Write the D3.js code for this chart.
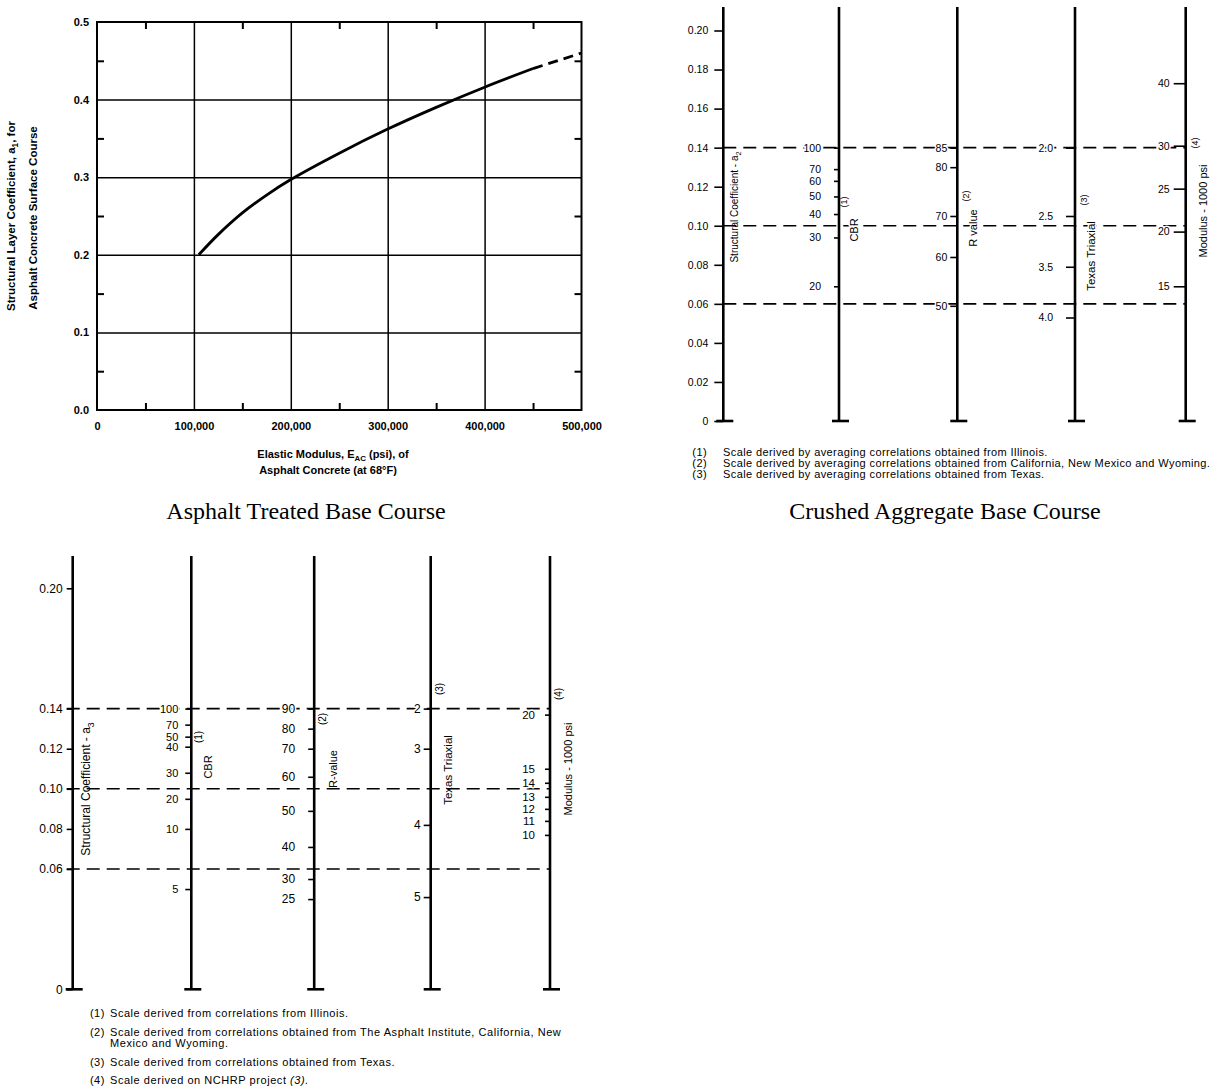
<!DOCTYPE html>
<html lang="en">
<head>
<meta charset="UTF-8">
<title>Structural layer coefficients</title>
<script src="https://d3js.org/d3.v7.min.js"></script>
<style>
  body { margin: 0; background: #fff; }
  svg { display: block; }
  text { font-family: "Liberation Sans", Arial, sans-serif; fill: #000; }
  .caption { font-family: "Liberation Serif", "Times New Roman", serif; font-size: 24px; }
</style>
</head>
<body>
<svg width="1221" height="1089"></svg>
<script>
// ---- Asphalt treated base course: a1 against elastic modulus ----
const modulusSolid = [105000, 125000, 150000, 175000, 200000, 250000, 300000, 350000, 400000, 450000];
const a1Solid = [0.200, 0.226, 0.254, 0.277, 0.297, 0.331, 0.362, 0.390, 0.416, 0.440];
const modulusDashed = [450000, 500000];
const a1Dashed = [0.440, 0.460];
const modulusTicks = [0, 100000, 200000, 300000, 400000, 500000];
const modulusGrid = [100000, 200000, 300000, 400000];
const modulusMinor = [50000, 150000, 250000, 350000, 450000];
const a1Ticks = [0, 0.1, 0.2, 0.3, 0.4, 0.5];
const a1Grid = [0.1, 0.2, 0.3, 0.4];
const a1Minor = [0.05, 0.15, 0.25, 0.35, 0.45];

// ---- Crushed aggregate base course: a2 nomograph ----
const a2Ticks = [0, 0.02, 0.04, 0.06, 0.08, 0.10, 0.12, 0.14, 0.16, 0.18, 0.20];
const a2Guides = [0.14, 0.10, 0.06];
const cbr2Labels = ["100", "70", "60", "50", "40", "30", "20"];
const cbr2At = [0.140, 0.129, 0.123, 0.115, 0.106, 0.094, 0.069];
const rval2Labels = ["85", "80", "70", "60", "50"];
const rval2At = [0.140, 0.130, 0.105, 0.084, 0.059];
const tex2Labels = ["2.0", "2.5", "3.5", "4.0"];
const tex2At = [0.140, 0.105, 0.079, 0.053];
const mod2Labels = ["40", "30", "25", "20", "15"];
const mod2At = [0.173, 0.141, 0.119, 0.097, 0.069];
const notes2 = [
  ["Scale derived by averaging correlations obtained from Illinois."],
  ["Scale derived by averaging correlations obtained from California, New Mexico and Wyoming."],
  ["Scale derived by averaging correlations obtained from Texas."],
  ["Scale derived on NCHRP project "]
];

// ---- Granular subbase course: a3 nomograph ----
const a3Ticks = [0, 0.06, 0.08, 0.10, 0.12, 0.14, 0.20];
const a3Labels = ["0", "0.06", "0.08", "0.10", "0.12", "0.14", "0.20"];
const a3Guides = [0.14, 0.10, 0.06];
const cbr3Labels = ["100", "70", "50", "40", "30", "20", "10", "5"];
const cbr3At = [0.140, 0.132, 0.126, 0.121, 0.108, 0.095, 0.080, 0.050];
const rval3Labels = ["90", "80", "70", "60", "50", "40", "30", "25"];
const rval3At = [0.140, 0.130, 0.120, 0.106, 0.089, 0.071, 0.055, 0.045];
const tex3Labels = ["2", "3", "4", "5"];
const tex3At = [0.140, 0.120, 0.082, 0.046];
const mod3Labels = ["20", "15", "14", "13", "12", "11", "10"];
const mod3At = [0.137, 0.110, 0.103, 0.096, 0.090, 0.084, 0.077];
const notes3 = [
  ["Scale derived from correlations from Illinois."],
  ["Scale derived from correlations obtained from The Asphalt Institute, California, New", "Mexico and Wyoming."],
  ["Scale derived from correlations obtained from Texas."],
  ["Scale derived on NCHRP project "]
];

const svg = d3.select("svg");

// white halo so dashed guides break around a label
const halo = t => t.attr("paint-order", "stroke").attr("stroke", "#fff")
  .attr("stroke-width", 3).attr("stroke-linejoin", "round");

// text made of parts; {sub: "..."} parts are lowered and smaller
function richText(g, x, y, parts, size, opts = {}) {
  const t = g.append("text")
    .attr("transform", opts.rotate ? `translate(${x},${y}) rotate(-90)` : `translate(${x},${y})`)
    .attr("text-anchor", opts.anchor || "middle")
    .attr("dy", "0.35em")
    .attr("font-size", size)
    .attr("font-weight", opts.bold ? "bold" : null);
  let shifted = 0;
  parts.forEach(p => {
    const s = t.append("tspan");
    if (typeof p === "string") {
      s.text(p).attr("dy", -shifted);
      shifted = 0;
    } else if (p.sub) {
      shifted = size * 0.3;
      s.text(p.sub).attr("font-size", size * 0.72).attr("dy", shifted);
    }
  });
  if (opts.halo) halo(t);
  return t;
}

// ================= Panel 1 =================
const p1 = svg.append("g");
const x1 = d3.scaleLinear().domain([0, 500000]).range([97, 581.5]);
const y1 = d3.scaleLinear().domain([0, 0.5]).range([410, 22]);
const plotH = y1(0) - y1(0.5), plotW = x1(500000) - x1(0);

const noDomain = g => g.select(".domain").remove();

p1.append("g").attr("transform", `translate(0,${y1(0)})`)
  .call(d3.axisBottom(x1).tickValues(modulusGrid).tickSize(-plotH).tickFormat(""))
  .call(noDomain).selectAll("line").attr("stroke-width", 1.5);
p1.append("g").attr("transform", `translate(${x1(0)},0)`)
  .call(d3.axisLeft(y1).tickValues(a1Grid).tickSize(-plotW).tickFormat(""))
  .call(noDomain).selectAll("line").attr("stroke-width", 1.5);

// inward minor ticks on all four sides
[[d3.axisBottom(x1).tickValues(modulusMinor), `translate(0,${y1(0)})`],
 [d3.axisTop(x1).tickValues(modulusMinor), `translate(0,${y1(0.5)})`],
 [d3.axisLeft(y1).tickValues(a1Minor), `translate(${x1(0)},0)`],
 [d3.axisRight(y1).tickValues(a1Minor), `translate(${x1(500000)},0)`]
].forEach(([ax, tr]) => {
  p1.append("g").attr("transform", tr)
    .call(ax.tickSize(-7).tickFormat(""))
    .call(noDomain).selectAll("line").attr("stroke-width", 2);
});

p1.append("rect")
  .attr("x", x1(0)).attr("y", y1(0.5))
  .attr("width", plotW).attr("height", plotH)
  .attr("fill", "none").attr("stroke", "#000").attr("stroke-width", 2);

p1.append("g").attr("transform", `translate(0,${y1(0)})`)
  .call(d3.axisBottom(x1).tickValues(modulusTicks).tickSize(0).tickPadding(12).tickFormat(d3.format(",")))
  .call(noDomain)
  .attr("font-size", 11).attr("font-weight", "bold");

p1.append("g").attr("transform", `translate(${x1(0)},0)`)
  .call(d3.axisLeft(y1).tickValues(a1Ticks).tickSize(0).tickPadding(8).tickFormat(d3.format(".1f")))
  .call(noDomain)
  .attr("font-size", 11).attr("font-weight", "bold");

const curve = d3.line().x(d => x1(d[0])).y(d => y1(d[1])).curve(d3.curveCatmullRom.alpha(0.5));
p1.append("path").datum(d3.zip(modulusSolid, a1Solid))
  .attr("d", curve).attr("fill", "none").attr("stroke", "#000").attr("stroke-width", 2.8);
p1.append("path").datum(d3.zip(modulusDashed, a1Dashed))
  .attr("d", curve).attr("fill", "none").attr("stroke", "#000").attr("stroke-width", 2.8)
  .attr("stroke-dasharray", "10,6");

richText(p1, 15, 216, ["Structural Layer Coefficient, a", {sub: "1"}, ", for"], 11.5, {rotate: true, bold: true});
richText(p1, 37, 218, ["Asphalt Concrete Surface Course"], 11.5, {rotate: true, bold: true});
richText(p1, 333, 458, ["Elastic Modulus, E", {sub: "AC"}, " (psi), of"], 11, {bold: true});
richText(p1, 328, 474, ["Asphalt Concrete (at 68°F)"], 11, {bold: true});
p1.append("text").attr("class", "caption").attr("x", 306).attr("y", 511).attr("dy", "0.35em")
  .attr("text-anchor", "middle").text("Asphalt Treated Base Course");

// ================= nomograph helpers =================
function guides(g, y, values, xa, xb) {
  g.selectAll(null).data(values).join("line")
    .attr("x1", xa).attr("x2", xb)
    .attr("y1", d => y(d)).attr("y2", d => y(d))
    .attr("stroke", "#000").attr("stroke-width", 1.6).attr("stroke-dasharray", "13,7");
}

function scaleLine(g, y, x, top, bottom, at, labels, tickSize, pad, fontSize) {
  const ax = g.append("g").attr("transform", `translate(${x},0)`)
    .call(d3.axisLeft(y).tickValues(at).tickFormat((d, i) => labels[i]).tickSize(tickSize).tickPadding(pad))
    .call(noDomain);
  ax.attr("font-size", fontSize);
  ax.selectAll("line").attr("stroke-width", 1.6);
  halo(ax.selectAll("text"));
  g.append("line").attr("x1", x).attr("x2", x).attr("y1", top).attr("y2", bottom)
    .attr("stroke", "#000").attr("stroke-width", 2.6);
  g.append("line").attr("x1", x - 7).attr("x2", x + 10).attr("y1", bottom).attr("y2", bottom)
    .attr("stroke", "#000").attr("stroke-width", 2.6);
}

function notesBlock(g, notes, xMark, xText, ys, size, spacing) {
  let k = 0;
  notes.forEach((lines, i) => {
    g.append("text").attr("x", xMark).attr("y", ys[k]).attr("dy", "0.35em")
      .attr("letter-spacing", spacing)
      .attr("text-anchor", "end").attr("font-size", size).text(`(${i + 1})`);
    lines.forEach((line, j) => {
      const t = g.append("text").attr("x", xText).attr("y", ys[k]).attr("dy", "0.35em")
        .attr("letter-spacing", spacing)
        .attr("font-size", size).text(line);
      if (i === 3 && j === lines.length - 1) t.append("tspan").attr("font-style", "italic").text("(3).");
      k++;
    });
  });
}

// ================= Panel 2 =================
const p2 = svg.append("g");
const y2 = d3.scaleLinear().domain([0, 0.2]).range([421, 30.5]);
const ax2 = [723.3, 839, 957.3, 1075, 1185.7];
const top2 = 7, bot2 = 421;
guides(p2, y2, a2Guides, ax2[0], ax2[4]);
richText(p2, 738, 207, ["Structural Coefficient - a", {sub: "2"}], 10, {rotate: true});
richText(p2, 858, 230, ["CBR"], 11, {rotate: true, halo: true});
richText(p2, 847, 202, ["(1)"], 9, {rotate: true});
richText(p2, 977, 228, ["R value"], 11, {rotate: true, halo: true});
richText(p2, 969, 196, ["(2)"], 9, {rotate: true});
richText(p2, 1095, 256, ["Texas Triaxial"], 11.5, {rotate: true, halo: true});
richText(p2, 1087, 200, ["(3)"], 9, {rotate: true});
richText(p2, 1207, 211, ["Modulus - 1000 psi"], 11, {rotate: true});
richText(p2, 1198, 143, ["(4)"], 9, {rotate: true});

scaleLine(p2, y2, ax2[0], top2, bot2, a2Ticks, a2Ticks.map(d => d === 0 ? "0" : d3.format(".2f")(d)), 9, 6, 10.5);
scaleLine(p2, y2, ax2[1], top2, bot2, cbr2At, cbr2Labels, 5, 13, 10.5);
scaleLine(p2, y2, ax2[2], top2, bot2, rval2At, rval2Labels, 7, 3, 10.5);
scaleLine(p2, y2, ax2[3], top2, bot2, tex2At, tex2Labels, 9, 13, 10.5);
scaleLine(p2, y2, ax2[4], top2, bot2, mod2At, mod2Labels, 12, 4, 10.5);

p2.append("clipPath").attr("id", "notes2clip")
  .append("rect").attr("x", 660).attr("y", 440).attr("width", 561).attr("height", 40);
const n2 = p2.append("g").attr("clip-path", "url(#notes2clip)");
notesBlock(n2, notes2, 707, 723, [452, 463, 474, 484], 11, 0.4);

p2.append("text").attr("class", "caption").attr("x", 945).attr("y", 511).attr("dy", "0.35em")
  .attr("text-anchor", "middle").text("Crushed Aggregate Base Course");

// ================= Panel 3 =================
const p3 = svg.append("g");
const y3 = d3.scaleLinear().domain([0, 0.2]).range([989.3, 588.3]);
const ax3 = [72.7, 191.3, 314.2, 430.7, 550];
const top3 = 556, bot3 = 989.3;
guides(p3, y3, a3Guides, ax3[0] - 6, ax3[4]);
richText(p3, 90, 789, ["Structural Coefficient - a", {sub: "3"}], 12, {rotate: true});
richText(p3, 211.7, 767, ["CBR"], 11, {rotate: true});
richText(p3, 201.7, 737, ["(1)"], 10, {rotate: true});
richText(p3, 336.7, 769, ["R-value"], 11, {rotate: true});
richText(p3, 326, 719, ["(2)"], 10, {rotate: true});
richText(p3, 451.7, 770, ["Texas Triaxial"], 11.5, {rotate: true});
richText(p3, 443.3, 689, ["(3)"], 10, {rotate: true});
richText(p3, 571.7, 769, ["Modulus - 1000 psi"], 11, {rotate: true});
richText(p3, 561.7, 694, ["(4)"], 10, {rotate: true});

scaleLine(p3, y3, ax3[0], top3, bot3, a3Ticks, a3Labels, 6, 4, 12);
scaleLine(p3, y3, ax3[1], top3, bot3, cbr3At, cbr3Labels, 6, 7, 11);
scaleLine(p3, y3, ax3[2], top3, bot3, rval3At, rval3Labels, 6, 13, 12);
scaleLine(p3, y3, ax3[3], top3, bot3, tex3At, tex3Labels, 7, 3, 12);
scaleLine(p3, y3, ax3[4], top3, bot3, mod3At, mod3Labels, 5, 10, 11.5);

notesBlock(p3, notes3, 105, 110, [1013, 1032, 1043, 1062, 1080], 11, 0.55);
</script>
</body>
</html>
